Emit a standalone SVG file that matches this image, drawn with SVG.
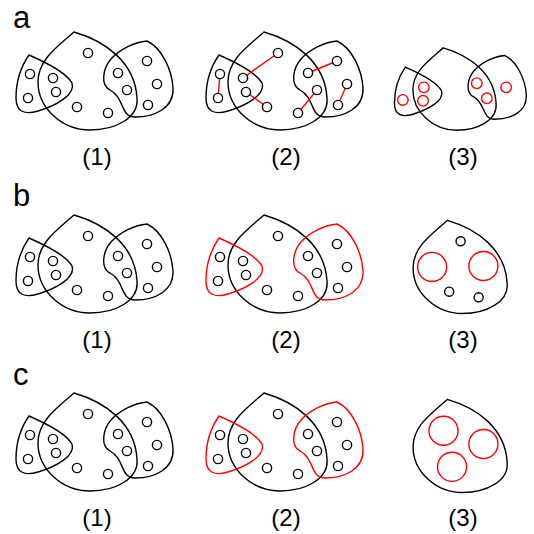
<svg xmlns="http://www.w3.org/2000/svg" xmlns:xlink="http://www.w3.org/1999/xlink" width="534" height="534" viewBox="0 0 534 534">
<style>
.s{fill:none;stroke:#000;stroke-width:1.4}
.r{stroke:#f00}
.d{fill:#fff;stroke:#000;stroke-width:1.4}
.ln{stroke:#f00;stroke-width:1.4}
.lab{font-family:"Liberation Sans",Arial,sans-serif;font-size:24px;text-anchor:middle;fill:#000}
.big{font-family:"Liberation Sans",Arial,sans-serif;font-size:31px;fill:#000}
</style>
<defs>
<path id="B" d="M74,32 C105,41 135,62 137,98 C139,118 115,130 90,130 C62,130 38,108 38,82 C38,60 56,48 74,32 Z"/>
<path id="L" d="M29,55 C45,62 66,72 72,83 C76,95 55,106 38,111 C25,115 16,112 16,98 C16,80 22,65 29,55 Z"/>
<path id="R" d="M147,41 C162,48 172,70 173,88 C174,108 155,117 135,117 C120,117 125,98 110,90 C100,85 103,68 111,59 C120,49 135,42 147,41 Z"/>
<g id="dots">
<circle cx="88" cy="53" r="4.6"/><circle cx="30" cy="74" r="4.6"/><circle cx="28" cy="98" r="4.6"/>
<circle cx="53" cy="78" r="4.6"/><circle cx="56" cy="92" r="4.6"/><circle cx="77" cy="107" r="4.6"/>
<circle cx="108" cy="113" r="4.6"/><circle cx="118" cy="73" r="4.6"/><circle cx="127" cy="90" r="4.6"/>
<circle cx="147" cy="61" r="4.6"/><circle cx="157" cy="84" r="4.6"/><circle cx="148" cy="105" r="4.6"/>
</g>
</defs>
<text class="big" x="13" y="28">a</text>
<text class="big" x="13" y="206">b</text>
<text class="big" x="13" y="385">c</text>
<g id="a1">
<use href="#B" class="s"/><use href="#L" class="s"/><use href="#R" class="s"/>
<use href="#dots" class="d"/>
<text class="lab" x="97" y="165">(1)</text>
</g>
<g id="a2">
<g transform="translate(190,0)">
<use href="#B" class="s"/><use href="#L" class="s"/><use href="#R" class="s"/>
<g id="connectors">
<line class="ln" x1="30" y1="74" x2="28" y2="98"/>
<line class="ln" x1="88" y1="53" x2="53" y2="78"/>
<line class="ln" x1="56" y1="92" x2="77" y2="107"/>
<line class="ln" x1="118" y1="73" x2="147" y2="61"/>
<line class="ln" x1="127" y1="90" x2="108" y2="113"/>
<line class="ln" x1="157" y1="84" x2="148" y2="105"/>
</g>
<use href="#dots" class="d"/>
</g>
<text class="lab" x="286" y="165">(2)</text>
</g>
<g id="a3">
<g transform="translate(381,21) scale(0.84)">
<use href="#B" class="s" style="stroke-width:1.65"/><use href="#L" class="s" style="stroke-width:1.65"/><use href="#R" class="s" style="stroke-width:1.65"/>
<g fill="none" stroke="#f00" stroke-width="1.65">
<circle cx="26" cy="94" r="6.3"/><circle cx="51" cy="79" r="6.3"/><circle cx="50" cy="95" r="6.3"/>
<circle cx="114" cy="74" r="6.3"/><circle cx="126" cy="92" r="6.3"/><circle cx="149" cy="79" r="6.3"/>
</g>
</g>
<text class="lab" x="463" y="165">(3)</text>
</g>
<g id="b1" transform="translate(0,183)">
<use href="#B" class="s"/><use href="#L" class="s"/><use href="#R" class="s"/>
<use href="#dots" class="d"/>
<text class="lab" x="97" y="165">(1)</text>
</g>
<g id="b2" transform="translate(190,183)">
<use href="#B" class="s"/><use href="#L" class="s r"/><use href="#R" class="s r"/>
<use href="#dots" class="d"/>
<text class="lab" x="96" y="165">(2)</text>
</g>
<g id="b3">
<g transform="translate(377,190) scale(0.95)">
<use href="#B" class="s" style="stroke-width:1.47"/>
<g fill="none" stroke="#000" stroke-width="1.47">
<circle cx="88" cy="54" r="4.8"/><circle cx="76" cy="107" r="4.8"/><circle cx="107" cy="113" r="4.8"/>
</g>
<g fill="none" stroke="#f00" stroke-width="1.47">
<circle cx="58" cy="81" r="15.3"/><circle cx="112" cy="80" r="15.3"/>
</g>
</g>
<text class="lab" x="463" y="348">(3)</text>
</g>
<g id="c1" transform="translate(0,361)">
<use href="#B" class="s"/><use href="#L" class="s"/><use href="#R" class="s"/>
<use href="#dots" class="d"/>
<text class="lab" x="97" y="165">(1)</text>
</g>
<g id="c2" transform="translate(190,361)">
<use href="#B" class="s"/><use href="#L" class="s r"/><use href="#R" class="s r"/>
<use href="#dots" class="d"/>
<text class="lab" x="96" y="165">(2)</text>
</g>
<g id="c3">
<g transform="translate(377,369) scale(0.95)">
<use href="#B" class="s" style="stroke-width:1.47"/>
<g fill="none" stroke="#f00" stroke-width="1.47">
<circle cx="70" cy="65" r="15.3"/><circle cx="112" cy="79" r="15.3"/><circle cx="79" cy="103" r="15.3"/>
</g>
</g>
<text class="lab" x="463" y="526">(3)</text>
</g>
</svg>
